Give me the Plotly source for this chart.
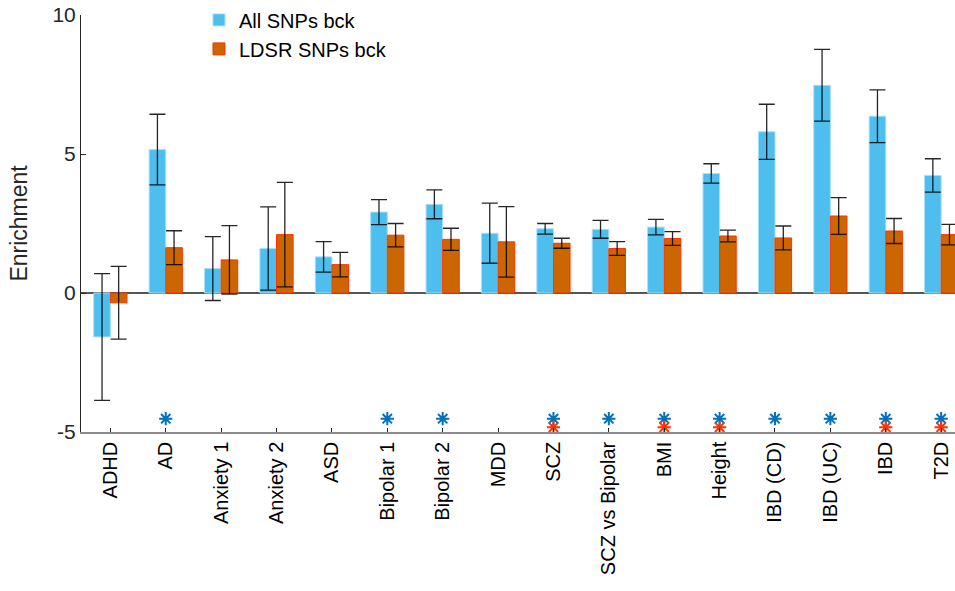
import plotly.graph_objects as go

categories = ["ADHD", "AD", "Anxiety 1", "Anxiety 2", "ASD", "Bipolar 1", "Bipolar 2", "MDD",
              "SCZ", "SCZ vs Bipolar", "BMI", "Height", "IBD (CD)", "IBD (UC)", "IBD", "T2D"]

all_snps = [-1.58, 5.16, 0.88, 1.60, 1.30, 2.91, 3.19, 2.15, 2.31, 2.29, 2.37, 4.30, 5.80, 7.47, 6.36, 4.23]
all_err = [2.28, 1.27, 1.15, 1.50, 0.55, 0.45, 0.52, 1.08, 0.19, 0.32, 0.28, 0.35, 0.99, 1.29, 0.95, 0.60]

ldsr_snps = [-0.35, 1.63, 1.19, 2.10, 1.02, 2.08, 1.93, 1.84, 1.79, 1.60, 1.96, 2.05, 1.98, 2.77, 2.23, 2.10]
ldsr_err = [1.31, 0.61, 1.23, 1.88, 0.44, 0.42, 0.40, 1.27, 0.18, 0.25, 0.25, 0.21, 0.43, 0.66, 0.45, 0.37]

# significance flags (1 = significant)
sig_all = [0, 1, 0, 0, 0, 1, 1, 0, 1, 1, 1, 1, 1, 1, 1, 1]
sig_ldsr = [0, 0, 0, 0, 0, 0, 0, 0, 1, 0, 1, 1, 0, 0, 1, 1]
sig_level_all = -4.52
sig_level_ldsr = -4.83

BLUE = "#4DBEEE"
ORANGE = "#CC6600"

fig = go.Figure()
fig.add_trace(go.Bar(
    x=categories, y=all_snps, name="All SNPs bck",
    marker=dict(color=BLUE, line=dict(color="#A8E0F7", width=1)),
    error_y=dict(type="data", array=all_err, visible=True, color="rgba(0,0,0,0.85)", thickness=1.3, width=8),
))
fig.add_trace(go.Bar(
    x=categories, y=ldsr_snps, name="LDSR SNPs bck",
    marker=dict(color=ORANGE, line=dict(color="#FF3300", width=1)),
    error_y=dict(type="data", array=ldsr_err, visible=True, color="rgba(0,0,0,0.85)", thickness=1.3, width=8),
))

xa = [c for c, s in zip(categories, sig_all) if s]
fig.add_trace(go.Scatter(
    x=xa, y=[sig_level_all] * len(xa), mode="markers", showlegend=False,
    marker=dict(symbol="asterisk-open", size=11, color="#0072BD", line=dict(color="#0072BD", width=2)),
))
xl = [c for c, s in zip(categories, sig_ldsr) if s]
fig.add_trace(go.Scatter(
    x=xl, y=[sig_level_ldsr] * len(xl), mode="markers", showlegend=False,
    marker=dict(symbol="asterisk-open", size=11, color="#FF3300", line=dict(color="#FF3300", width=2)),
))

font = "Liberation Sans, Arial, Helvetica, sans-serif"
fig.update_layout(
    width=955, height=591,
    margin=dict(l=81, r=0, t=15, b=159, autoexpand=False),
    paper_bgcolor="white", plot_bgcolor="white",
    barmode="group", bargap=0.4, bargroupgap=0,
    font=dict(family=font, size=20, color="#262626"),
    legend=dict(x=0.135, y=1.035, xanchor="left", yanchor="top",
                bgcolor="rgba(0,0,0,0)", font=dict(size=20, color="#000"),
                tracegroupgap=0, itemwidth=30),
    xaxis=dict(
        range=[-0.53, 15.25], tickangle=-90, showline=True, linecolor="#8c8c8c", linewidth=1.5,
        ticks="inside", ticklen=4, tickcolor="#262626", showgrid=False, zeroline=False,
        tickfont=dict(size=20, color="#000"), mirror=False, automargin=False,
    ),
    yaxis=dict(
        range=[-5, 10], tickvals=[-5, 0, 5, 10], ticktext=["-5", "0", "5", "10"],
        ticklabeloverflow="allow", automargin=False,
        showline=True, linecolor="#262626", linewidth=1, ticks="inside", ticklen=5,
        tickcolor="#262626", showgrid=False, zeroline=True, zerolinecolor="#555", zerolinewidth=1.5,
        tickfont=dict(size=21, color="#262626"),
    ),
    annotations=[dict(text="Enrichment", xref="paper", yref="paper", x=-0.072, y=0.5,
                      xanchor="center", yanchor="middle", textangle=-90, showarrow=False,
                      font=dict(size=23, color="#262626"))],
)

fig.write_html("out.html", config={"displayModeBar": False},
               post_script="document.body.style.margin='0';")
